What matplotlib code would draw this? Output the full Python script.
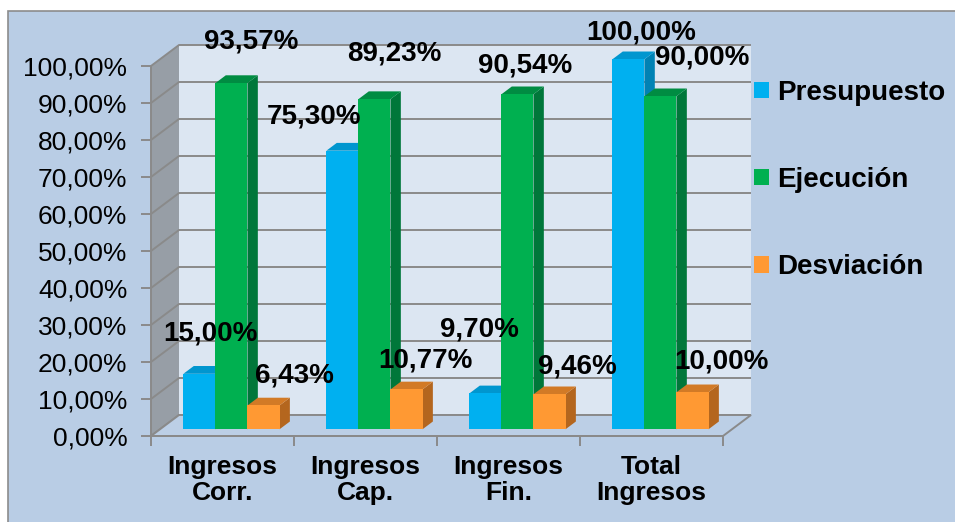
import matplotlib
matplotlib.use('Agg')
import matplotlib.pyplot as plt
from matplotlib.patches import Polygon, Rectangle, Patch

plt.rcParams['font.family'] = ['Liberation Sans', 'DejaVu Sans']

categories = ['Ingresos\nCorr.', 'Ingresos\nCap.', 'Ingresos\nFin.', 'Total\nIngresos']
presupuesto = [15.00, 75.30, 9.70, 100.00]
ejecucion = [93.57, 89.23, 90.54, 90.00]
desviacion = [6.43, 10.77, 9.46, 10.00]
series_names = ['Presupuesto', 'Ejecución', 'Desviación']
yticks = list(range(0, 101, 10))

# colours: front, side, top
colors = {
    'Presupuesto': ('#00B0F0', '#0082B4', '#0096CF'),
    'Ejecución': ('#00B050', '#00773A', '#008C42'),
    'Desviación': ('#FF9933', '#B4661E', '#D27A26'),
}
bg = '#B9CDE5'
wall = '#DCE6F2'
side = '#979EA6'
grid = '#8A8A8A'

# label offsets (pixels) from the top of each bar's front face
label_off = {
    'Presupuesto': [(11, 40), (-28, 34), (-6, 64), (13, 27)],
    'Ejecución': [(20, 42), (20, 46), (8, 29), (42, 39)],
    'Desviación': [(31, 30), (19, 29), (28, 28), (29, 31)],
}

W, H = 955, 522
fig = plt.figure(figsize=(W / 100, H / 100), dpi=100)
fig.patch.set_facecolor('white')
fig.add_artist(Rectangle((8 / W, -0.02), 1.0, 1 - 11 / H + 0.02, transform=fig.transFigure,
                         facecolor=bg, edgecolor='#8C8C8C', lw=1.2, zorder=0))

ax_l, ax_r, ax_t, ax_b = 151, 723, 66, 436
ax = fig.add_axes([ax_l / W, (H - ax_b) / H, (ax_r - ax_l) / W, (ax_b - ax_t) / H])
ax.set_facecolor('none')
ax.set_xlim(-0.5, 3.5)
ax.set_ylim(0, 100)

px_x = (ax_r - ax_l) / 4.0      # pixels per x unit
px_y = (ax_b - ax_t) / 100.0    # pixels per y unit
dxw, dyw = 28 / px_x, 21 / px_y  # wall depth in data units
f0, f1 = 0.32, 0.69              # bar depth fractions

# side wall and back wall
ax.add_patch(Polygon([(-0.5, 0), (-0.5, 100), (-0.5 + dxw, 100 + dyw), (-0.5 + dxw, dyw)],
                     closed=True, facecolor=side, edgecolor='none', clip_on=False, zorder=1))
ax.add_patch(Polygon([(-0.5 + dxw, dyw), (-0.5 + dxw, 100 + dyw), (3.5 + dxw, 100 + dyw), (3.5 + dxw, dyw)],
                     closed=True, facecolor=wall, edgecolor='none', clip_on=False, zorder=1))
for v in yticks:
    ax.plot([-0.5, -0.5 + dxw, 3.5 + dxw], [v, v + dyw, v + dyw], color=grid, lw=1.4,
            clip_on=False, zorder=2, solid_capstyle='butt')
# floor
ax.add_patch(Polygon([(-0.5, 0), (3.5, 0), (3.5 + dxw, dyw), (-0.5 + dxw, dyw)],
                     closed=True, facecolor='#BCCFE6', edgecolor=grid, lw=1.4, clip_on=False, zorder=2))

bw = 0.224
series = {'Presupuesto': presupuesto, 'Ejecución': ejecucion, 'Desviación': desviacion}
z = 3
for i in range(len(categories)):
    for j, name in enumerate(series_names):
        v = series[name][i]
        fc, sc, tc = colors[name]
        xc = i + (j - 1) * bw
        x0 = xc - bw / 2 + f0 * dxw
        x1 = xc + bw / 2 + f0 * dxw
        y0 = f0 * dyw
        ddx, ddy = (f1 - f0) * dxw, (f1 - f0) * dyw
        top = v + y0
        ax.add_patch(Polygon([(x1, y0), (x1, top), (x1 + ddx, top + ddy), (x1 + ddx, y0 + ddy)],
                             closed=True, facecolor=sc, edgecolor='none', clip_on=False, zorder=z))
        ax.add_patch(Polygon([(x0, top), (x1, top), (x1 + ddx, top + ddy), (x0 + ddx, top + ddy)],
                             closed=True, facecolor=tc, edgecolor='none', clip_on=False, zorder=z))
        ax.bar(xc + f0 * dxw, v, width=bw, bottom=y0, color=fc, clip_on=False, zorder=z, lw=0)
        z += 1
        dx, dy = label_off[name][i]
        ax.annotate(f"{v:.2f}".replace('.', ',') + '%', xy=(xc + f0 * dxw, top),
                    xytext=(dx, dy), textcoords='offset pixels', ha='center', va='center',
                    fontsize=20, fontweight='bold', color='black', zorder=50, annotation_clip=False)

# axes styling
for s in ['top', 'right']:
    ax.spines[s].set_visible(False)
for s in ['left', 'bottom']:
    ax.spines[s].set_color(grid)
    ax.spines[s].set_linewidth(1.4)
    ax.spines[s].set_zorder(2.5)
ax.set_yticks(yticks)
ax.set_yticklabels([f"{v},00%" for v in yticks])
ax.tick_params(axis='y', length=7, width=1.4, color=grid, pad=10, labelsize=19)
ax.set_xticks([-0.5, 0.5, 1.5, 2.5, 3.5])
ax.set_xticklabels([])
ax.set_xticks(range(len(categories)), minor=True)
ax.set_xticklabels(categories, minor=True, fontsize=19, fontweight='bold', linespacing=1.1)
ax.tick_params(axis='x', which='major', length=7, width=1.4, color=grid)
ax.tick_params(axis='x', which='minor', length=0, pad=14)

handles = [Patch(facecolor=colors[n][0], edgecolor='none') for n in series_names]
leg = fig.legend(handles, series_names, loc='center left', bbox_to_anchor=(754 / W, (H - 180) / H),
                 frameon=False, prop={'size': 20, 'weight': 'bold'}, handlelength=0.54,
                 handleheight=0.54, handletextpad=0.3, labelspacing=2.2, borderpad=0, borderaxespad=0)

fig.savefig('out.png', dpi=100, facecolor=fig.get_facecolor())
